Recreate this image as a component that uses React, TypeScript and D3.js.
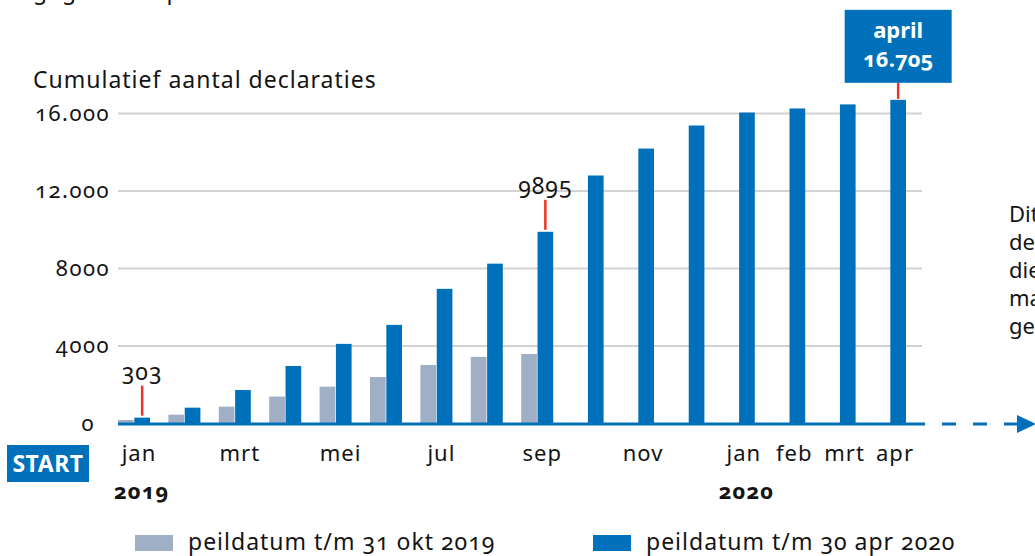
import React, { useEffect, useRef } from 'react';
import * as d3 from 'd3';

// maanden jan 2019 t/m apr 2020
const months = [
  '2019-01', '2019-02', '2019-03', '2019-04', '2019-05', '2019-06', '2019-07', '2019-08',
  '2019-09', '2019-10', '2019-11', '2019-12', '2020-01', '2020-02', '2020-03', '2020-04'
];
const monthLabels = ['jan', '', 'mrt', '', 'mei', '', 'jul', '', 'sep', '', 'nov', '', 'jan', 'feb', 'mrt', 'apr'];

// cumulatief aantal declaraties
const peildatum2019 = [180, 455, 870, 1390, 1900, 2400, 3020, 3440, 3590];
const peildatum2020 = [303, 817, 1730, 2970, 4110, 5090, 6950, 8250, 9895, 12800, 14190, 15380, 16050, 16260, 16470, 16705];

const yTicks = [0, 4000, 8000, 12000, 16000];
const seriesKeys = ['2019', '2020'];
const seriesNames = ['peildatum t/m 31 okt 2019', 'peildatum t/m 30 apr 2020'];
const years = [
  { month: '2019-01', text: '2019' },
  { month: '2020-01', text: '2020' }
];
const callouts = [
  { month: '2019-01', value: 303, text: '303' },
  { month: '2019-09', value: 9895, text: '9895' }
];
const sideText = ['Dit is het aantal', 'declaraties', 'die in deze', 'maand zijn', 'gedaan'];

const FONT = '"Noto Sans", sans-serif';
const BLUE = '#0070ba';
const GREY = '#9eafc6';
const RED = '#e8352b';
const GRID = '#d3d3d3';
const INK = '#141414';

const W = 1035;
const H = 556;

const fmt = (d: number) => (d >= 10000 ? d3.format(',')(d).replace(',', '.') : String(d));

const App = () => {
  const rootRef = useRef<SVGSVGElement>(null);

  useEffect(() => {
    const svg = d3.select(rootRef.current).attr('width', W).attr('height', H);
    svg.selectAll('*').remove();
    svg.style('font-family', FONT).style('font-variant-numeric', 'oldstyle-nums');

    const x = d3.scaleBand().domain(months).range([118, 906]).paddingInner(0.365).paddingOuter(0);
    const x1 = d3.scaleBand().domain(seriesKeys).range([0, x.bandwidth()]).paddingInner(0.04);
    const y = d3.scaleLinear().domain([0, 16000]).range([423.5, 113.5]);
    const blueCenter = (m: string) => (x(m) ?? 0) + (x1('2020') ?? 0) + x1.bandwidth() / 2;

    // afgesneden tekst bovenaan
    svg.append('text').attr('x', 33).attr('y', -1).attr('font-size', 23).attr('letter-spacing', 1)
      .attr('fill', INK).text('gegevens op basis van declaraties');

    svg.append('text').attr('x', 33).attr('y', 88).attr('font-size', 23).attr('letter-spacing', 1)
      .attr('fill', INK).text('Cumulatief aantal declaraties');

    // gridlines + y labels
    svg.append('g').selectAll('line')
      .data(yTicks.filter((t) => t > 0))
      .enter()
      .append('line')
      .attr('x1', 118).attr('x2', 922)
      .attr('y1', (d) => y(d)).attr('y2', (d) => y(d))
      .attr('stroke', GRID).attr('stroke-width', 2);

    svg.append('g').selectAll('text')
      .data(yTicks)
      .enter()
      .append('text')
      .attr('x', (d) => (d === 0 ? 95 : 110))
      .attr('y', (d) => y(d))
      .attr('dy', '0.33em')
      .attr('text-anchor', 'end')
      .attr('font-size', 22)
      .attr('letter-spacing', 1.5)
      .attr('fill', INK)
      .text((d) => fmt(d));

    // bars
    svg.append('g').selectAll('rect')
      .data(peildatum2019)
      .enter()
      .append('rect')
      .attr('x', (_, i) => (x(months[i]) ?? 0) + (x1('2019') ?? 0))
      .attr('width', x1.bandwidth())
      .attr('y', (d) => y(d))
      .attr('height', (d) => y(0) - y(d))
      .attr('fill', GREY);

    svg.append('g').selectAll('rect')
      .data(peildatum2020)
      .enter()
      .append('rect')
      .attr('x', (_, i) => (x(months[i]) ?? 0) + (x1('2020') ?? 0))
      .attr('width', x1.bandwidth())
      .attr('y', (d) => y(d))
      .attr('height', (d) => y(0) - y(d))
      .attr('fill', BLUE);

    // tijdlijn
    svg.append('line').attr('x1', 118).attr('x2', 911).attr('y1', y(0) + 0.5).attr('y2', y(0) + 0.5)
      .attr('stroke', BLUE).attr('stroke-width', 3);
    svg.append('line').attr('x1', 911).attr('x2', 1018).attr('y1', y(0) + 0.5).attr('y2', y(0) + 0.5)
      .attr('stroke', BLUE).attr('stroke-width', 3).attr('stroke-dasharray', '14 17');
    svg.append('path').attr('d', `M1017,${y(0) - 8.5}L1036,${y(0) + 0.5}L1017,${y(0) + 9.5}Z`).attr('fill', BLUE);

    // x labels
    const xAxis = svg.append('g')
      .attr('transform', `translate(5,${445})`)
      .call(d3.axisBottom(x).tickSize(0).tickPadding(0).tickFormat((_, i) => monthLabels[i]));
    xAxis.select('.domain').remove();
    xAxis.selectAll('text').attr('font-size', 22).attr('letter-spacing', 1)
      .attr('font-family', FONT).attr('fill', INK);

    svg.append('g').selectAll('text')
      .data(years)
      .enter()
      .append('text')
      .attr('x', (d) => (x(d.month) ?? 0) - 4)
      .attr('y', 499)
      .attr('font-size', 22)
      .attr('letter-spacing', 1)
      .attr('font-weight', 'bold')
      .attr('fill', INK)
      .text((d) => d.text);

    // START
    svg.append('rect').attr('x', 7).attr('y', 445).attr('width', 82).attr('height', 37).attr('fill', BLUE);
    svg.append('text').attr('x', 48).attr('y', 472).attr('text-anchor', 'middle').attr('font-size', 23)
      .attr('letter-spacing', 0.5).attr('font-weight', 'bold').attr('fill', '#fff').text('START');

    // callouts
    const co = svg.append('g').selectAll('g').data(callouts).enter().append('g');
    co.append('line')
      .attr('x1', (d) => blueCenter(d.month)).attr('x2', (d) => blueCenter(d.month))
      .attr('y1', (d) => y(d.value) - 2).attr('y2', (d) => y(d.value) - 32)
      .attr('stroke', RED).attr('stroke-width', 2.5);
    co.append('text')
      .attr('x', (d) => blueCenter(d.month))
      .attr('y', (d) => y(d.value) - 38)
      .attr('text-anchor', 'middle')
      .attr('font-size', 23)
      .attr('letter-spacing', 1)
      .attr('fill', INK)
      .text((d) => d.text);

    // april box
    const last = months[months.length - 1];
    const lastVal = peildatum2020[peildatum2020.length - 1];
    const cx = blueCenter(last);
    const boxBottom = y(lastVal) - 17;
    svg.append('line').attr('x1', cx).attr('x2', cx).attr('y1', y(lastVal) - 1).attr('y2', boxBottom)
      .attr('stroke', RED).attr('stroke-width', 2.5);
    svg.append('rect').attr('x', cx - 53.5).attr('y', boxBottom - 73).attr('width', 107).attr('height', 73)
      .attr('fill', BLUE);
    svg.append('text').attr('x', cx).attr('y', boxBottom - 45).attr('text-anchor', 'middle')
      .attr('font-size', 22).attr('font-weight', 'bold').attr('fill', '#fff').text('april');
    svg.append('text').attr('x', cx).attr('y', boxBottom - 16).attr('text-anchor', 'middle')
      .attr('font-size', 22).attr('font-weight', 'bold').attr('fill', '#fff').text(fmt(lastVal));

    // tekst rechts (afgesneden)
    svg.append('g').selectAll('text')
      .data(sideText)
      .enter()
      .append('text')
      .attr('x', 1009)
      .attr('y', (_, i) => 222 + i * 28)
      .attr('font-size', 22)
      .attr('fill', INK)
      .text((d) => d);

    // legend
    const lg = svg.append('g').selectAll('g').data(seriesNames).enter().append('g')
      .attr('transform', (_, i) => `translate(${i === 0 ? 135 : 593},535)`);
    lg.append('rect').attr('width', 38).attr('height', 16).attr('fill', (_, i) => (i === 0 ? GREY : BLUE));
    lg.append('text').attr('x', 53).attr('y', 15).attr('font-size', 23).attr('letter-spacing', 1)
      .attr('fill', INK).text((d) => d);
  }, []);

  return <svg ref={rootRef} style={{ position: 'absolute', left: 0, top: 0, display: 'block' }}></svg>;
};

export default App;
